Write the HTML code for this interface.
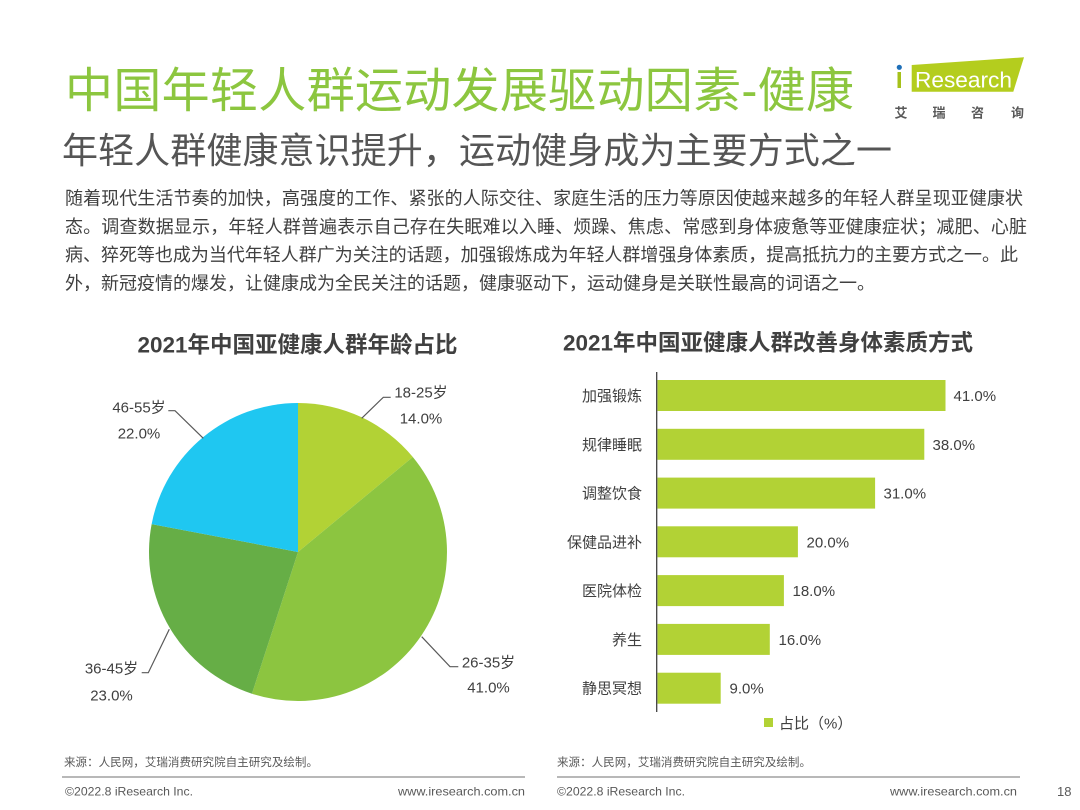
<!DOCTYPE html>
<html><head><meta charset="utf-8"><style>
html,body{margin:0;padding:0;background:#fff;}
svg{display:block;}
text{font-family:"Liberation Sans","Noto Sans CJK SC",sans-serif;}
</style></head><body>
<svg width="1080" height="810" viewBox="0 0 1080 810" xmlns="http://www.w3.org/2000/svg">
<rect width="1080" height="810" fill="#fff"/>
<!-- Title -->
<text x="65" y="107" font-size="48" fill="#8cc63f" textLength="789" lengthAdjust="spacing">中国年轻人群运动发展驱动因素-健康</text>
<text x="62" y="163" font-size="36" fill="#555555" textLength="830" lengthAdjust="spacing">年轻人群健康意识提升，运动健身成为主要方式之一</text>
<!-- Logo -->
<polygon points="911.7,65 1024,57.3 1013.3,91.7 911.7,91.7" fill="#b4cd1e"/>
<circle cx="899.3" cy="67.3" r="2.6" fill="#1e6fb8"/>
<rect x="897.5" y="72" width="3.5" height="16" fill="#a6c11a"/>
<text x="915" y="87.3" font-size="22" fill="#ffffff" textLength="97" lengthAdjust="spacingAndGlyphs">Research</text>
<g font-size="13" font-weight="bold" fill="#595959" text-anchor="middle">
<text x="901" y="117.5">艾</text><text x="939" y="117.5">瑞</text><text x="977.5" y="117.5">咨</text><text x="1017.5" y="117.5">询</text>
</g>
<!-- Paragraph -->
<g font-size="18" fill="#404040">
<text x="65" y="204.5" textLength="958" lengthAdjust="spacing">随着现代生活节奏的加快，高强度的工作、紧张的人际交往、家庭生活的压力等原因使越来越多的年轻人群呈现亚健康状</text>
<text x="65" y="233" textLength="962" lengthAdjust="spacing">态。调查数据显示，年轻人群普遍表示自己存在失眠难以入睡、烦躁、焦虑、常感到身体疲惫等亚健康症状；减肥、心脏</text>
<text x="65" y="261" textLength="953" lengthAdjust="spacing">病、猝死等也成为当代年轻人群广为关注的话题，加强锻炼成为年轻人群增强身体素质，提高抵抗力的主要方式之一。此</text>
<text x="65" y="289.5">外，新冠疫情的爆发，让健康成为全民关注的话题，健康驱动下，运动健身是关联性最高的词语之一。</text>
</g>
<!-- Pie chart -->
<text x="297.5" y="352.5" font-size="22.5" font-weight="bold" fill="#404040" text-anchor="middle">2021年中国亚健康人群年龄占比</text>
<path d="M298,552 L298,403 A149,149 0 0 1 412.8,457.03 Z" fill="#b2d235"/>
<path d="M298,552 L412.8,457.03 A149,149 0 0 1 251.96,693.71 Z" fill="#8cc540"/>
<path d="M298,552 L251.96,693.71 A149,149 0 0 1 151.64,524.08 Z" fill="#66ae46"/>
<path d="M298,552 L151.64,524.08 A149,149 0 0 1 298,403 Z" fill="#1fc7f1"/>
<g fill="none" stroke="#595959" stroke-width="1.2">
<polyline points="361.7,418.3 383.3,397.3 390.7,397.3"/>
<polyline points="168.3,410.7 175,410.7 203.3,438.3"/>
<polyline points="141.7,672.7 148.3,672.7 169.3,629.3"/>
<polyline points="421.7,636.7 450,666.7 458.3,666.7"/>
</g>
<g font-size="15" fill="#404040" text-anchor="middle">
<text x="421" y="397.5">18-25岁</text><text x="421" y="423.5">14.0%</text>
<text x="139" y="412.5">46-55岁</text><text x="139" y="438.5">22.0%</text>
<text x="111.5" y="673.5">36-45岁</text><text x="111.5" y="700.5">23.0%</text>
<text x="488.5" y="667.5">26-35岁</text><text x="488.5" y="692.5">41.0%</text>
</g>
<!-- Bar chart -->
<text x="768" y="350.5" font-size="22.5" font-weight="bold" fill="#404040" text-anchor="middle">2021年中国亚健康人群改善身体素质方式</text>
<g fill="#b2d235">
<rect x="657.5" y="380" width="288" height="31"/>
<rect x="657.5" y="428.8" width="266.8" height="31"/>
<rect x="657.5" y="477.6" width="217.6" height="31"/>
<rect x="657.5" y="526.3" width="140.4" height="31"/>
<rect x="657.5" y="575.1" width="126.4" height="31"/>
<rect x="657.5" y="623.9" width="112.3" height="31"/>
<rect x="657.5" y="672.7" width="63.2" height="31"/>
</g>
<line x1="656.7" y1="372" x2="656.7" y2="712" stroke="#404040" stroke-width="1.3"/>
<g font-size="15" fill="#404040" text-anchor="end">
<text x="642" y="401">加强锻炼</text>
<text x="642" y="449.8">规律睡眠</text>
<text x="642" y="498.6">调整饮食</text>
<text x="642" y="547.3">保健品进补</text>
<text x="642" y="596.1">医院体检</text>
<text x="642" y="644.9">养生</text>
<text x="642" y="693.7">静思冥想</text>
</g>
<g font-size="15" fill="#404040">
<text x="953.5" y="401">41.0%</text>
<text x="932.5" y="449.8">38.0%</text>
<text x="883.5" y="498.6">31.0%</text>
<text x="806.5" y="547.3">20.0%</text>
<text x="792.5" y="596.1">18.0%</text>
<text x="778.5" y="644.9">16.0%</text>
<text x="729.5" y="693.7">9.0%</text>
</g>
<rect x="764" y="718" width="9" height="9" fill="#b2d235"/>
<text x="779" y="728.5" font-size="15" fill="#404040">占比（%）</text>
<!-- Footer -->
<g font-size="11.5" fill="#595959">
<text x="64" y="766" textLength="254" lengthAdjust="spacingAndGlyphs">来源：人民网，艾瑞消费研究院自主研究及绘制。</text>
<text x="557" y="766" textLength="254" lengthAdjust="spacingAndGlyphs">来源：人民网，艾瑞消费研究院自主研究及绘制。</text>
</g>
<line x1="62" y1="777" x2="525" y2="777" stroke="#a0a0a0" stroke-width="1.5"/>
<line x1="557" y1="777" x2="1020" y2="777" stroke="#a0a0a0" stroke-width="1.5"/>
<g font-size="12" fill="#595959">
<text x="65" y="795.5" textLength="128" lengthAdjust="spacingAndGlyphs">©2022.8 iResearch Inc.</text>
<text x="557" y="795.5" textLength="128" lengthAdjust="spacingAndGlyphs">©2022.8 iResearch Inc.</text>
<text x="398" y="795.5" textLength="127" lengthAdjust="spacingAndGlyphs">www.iresearch.com.cn</text>
<text x="890" y="795.5" textLength="127" lengthAdjust="spacingAndGlyphs">www.iresearch.com.cn</text>
<text x="1057" y="796" font-size="13">18</text>
</g>
</svg>
</body></html>
